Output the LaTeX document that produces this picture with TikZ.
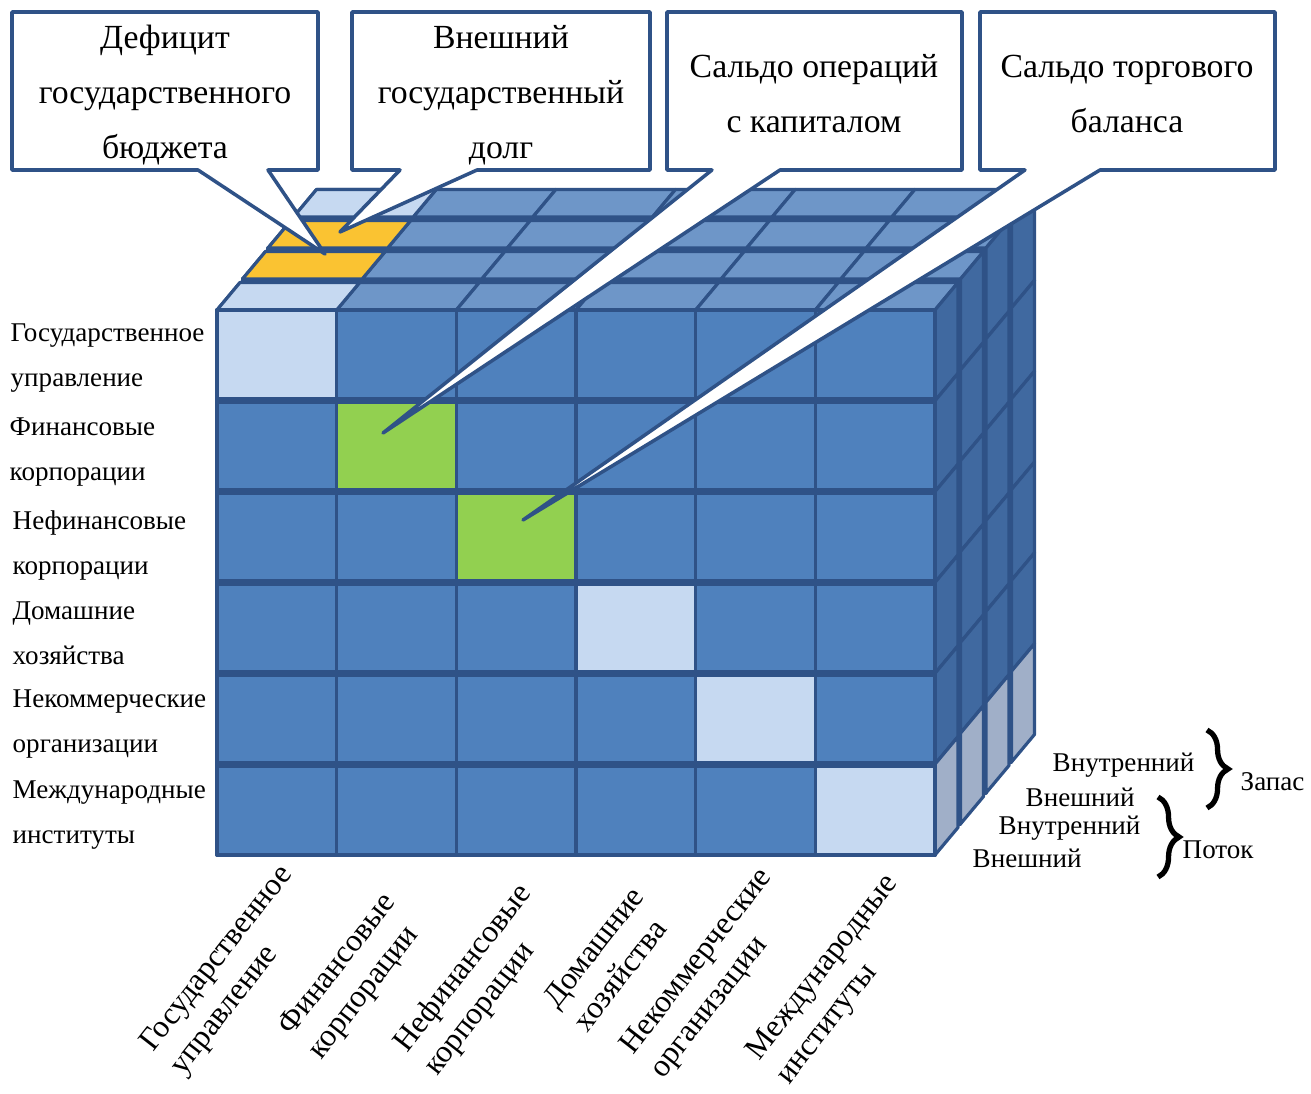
\documentclass[tikz,border=0pt]{standalone}
\usepackage{fontspec}
\setmainfont{Liberation Serif}
\usetikzlibrary{calc,decorations.pathreplacing}
\definecolor{frontblue}{HTML}{4F81BD}
\definecolor{topblue}{HTML}{6E96C8}
\definecolor{sideblue}{HTML}{4069A0}
\definecolor{edgeblue}{HTML}{2F5287}
\definecolor{paleblue}{HTML}{C6D9F1}
\definecolor{palegray}{HTML}{A0AFC8}
\definecolor{cellgreen}{HTML}{92D050}
\definecolor{cellgold}{HTML}{FAC332}
\def\face[#1](#2)(#3)(#4){\draw[#1] (#2) -- ++(#3) -- ++(#4) -- ($(#2)+(#4)$) -- cycle;}
\tikzset{
  cellline/.style={draw=edgeblue, line width=0.9pt, line join=round},
  rowline/.style={draw=edgeblue, line width=2pt},
  callout/.style={draw=edgeblue, fill=white, line width=1pt, line join=round},
  calltext/.style={align=center, inner sep=0pt, font=\fontsize{9.6}{15.6}\selectfont},
  rowlabel/.style={anchor=west, align=left, inner sep=0pt, font=\fontsize{7.7}{12.8}\selectfont},
  collabel/.style={rotate=52, anchor=north west, align=left, inner sep=0pt, font=\fontsize{9}{10.8}\selectfont},
  layerlabel/.style={anchor=west, inner sep=0pt, font=\fontsize{7.7}{9}\selectfont},
  stockbrace/.style={decorate, decoration={brace, amplitude=6pt}, line width=1.5pt}
}
\begin{document}
\begin{tikzpicture}[x=0.01cm,y=-0.01cm]
\useasboundingbox (0,0) rectangle (1311,1094);
%%%%% START %%%%%
% four slabs of the cube, back to front
\foreach \k/\tc in {3/paleblue,2/cellgold,1/cellgold,0/paleblue}{
  \begin{scope}[shift={(25.5*\k,-31*\k)}]
    \draw[cellline, fill=frontblue] (217,310) rectangle (935,855);
    \foreach \j in {0,...,5}{
      \face[cellline, fill=topblue](217+119.67*\j,310)(119.67,0)(23,-27.5)
    }
    \face[cellline, fill=\tc](217,310)(119.67,0)(23,-27.5)
    \foreach \i in {0,...,4}{
      \face[cellline, fill=sideblue](935,310+90.83*\i)(0,90.83)(23,-27.5)
    }
    \face[cellline, fill=palegray](935,764.17)(0,90.83)(23,-27.5)
  \end{scope}
}

% front face
\foreach \i in {0,...,5}{
  \foreach \j in {0,...,5}{
    \draw[cellline, fill=frontblue] (217+119.67*\j,310+90.83*\i) rectangle ++(119.67,90.83);
  }
}
\foreach \i/\c in {0/paleblue,1/cellgreen,2/cellgreen,3/paleblue,4/paleblue,5/paleblue}{
  \draw[cellline, fill=\c] (217+119.67*\i,310+90.83*\i) rectangle ++(119.67,90.83);
}
\foreach \i in {1,...,5}{
  \draw[rowline] (217,310+90.83*\i) -- (935,310+90.83*\i);
}

% callouts
\coordinate (tipdef) at (325,254);
\coordinate (tipdebt) at (340,232);
\coordinate (tipcap) at (383,433);
\coordinate (tiptrade) at (523,520);
\draw[callout] (12,12) -- (318,12) -- (318,170) -- (268,170) -- (tipdef) -- (198,170) -- (12,170) -- cycle;
\draw[callout] (352,12) -- (650,12) -- (650,170) -- (477,170) -- (tipdebt) -- (400,170) -- (352,170) -- cycle;
\draw[callout] (667,12) -- (962,12) -- (962,170) -- (780,170) -- (tipcap) -- (712,170) -- (667,170) -- cycle;
\draw[callout] (980,12) -- (1275,12) -- (1275,170) -- (1100,170) -- (tiptrade) -- (1025,170) -- (980,170) -- cycle;

\node[calltext] (deficit) at (165,95) {Дефицит\\государственного\\бюджета};
\node[calltext] (debt) at (501,95) {Внешний\\государственный\\долг};
\node[calltext] (capital) at (814,94) {Сальдо операций\\с капиталом};
\node[calltext] (trade) at (1127,94) {Сальдо торгового\\баланса};

% sectors, rows
\node[rowlabel] (rgov) at (10,358) {Государственное\\управление};
\node[rowlabel] (rfin) at (9,452) {Финансовые\\корпорации};
\node[rowlabel] (rnonfin) at (12,545) {Нефинансовые\\корпорации};
\node[rowlabel] (rhouse) at (12,633) {Домашние\\хозяйства};
\node[rowlabel] (rnonprof) at (12,724) {Некоммерческие\\организации};
\node[rowlabel] (rintl) at (12,815) {Международные\\институты};

% sectors, columns
\node[collabel] (cgov) at (136,1040) {Государственное\\управление};
\node[collabel] (cfin) at (274,1024) {Финансовые\\корпорации};
\node[collabel] (cnonfin) at (389,1040) {Нефинансовые\\корпорации};
\node[collabel] (chouse) at (540,997) {Домашние\\хозяйства};
\node[collabel] (cnonprof) at (616,1043) {Некоммерческие\\организации};
\node[collabel] (cintl) at (742,1049) {Международные\\институты};

% layers
\node[layerlabel] (instock) at (1052,765) {Внутренний};
\node[layerlabel] (exstock) at (1025,797) {Внешний};
\node[layerlabel] (inflow) at (998,828) {Внутренний};
\node[layerlabel] (exflow) at (972,858) {Внешний};
\coordinate (stocktop) at (1207,730);
\coordinate (stockbot) at (1207,808);
\coordinate (flowtop) at (1158,797);
\coordinate (flowbot) at (1158,877);
\draw[stockbrace] (stocktop) -- (stockbot);
\draw[stockbrace] (flowtop) -- (flowbot);
\node[layerlabel] (stock) at (1240,782) {Запас};
\node[layerlabel] (flow) at (1182,850) {Поток};
%%%%% END %%%%%
\end{tikzpicture}
\end{document}
